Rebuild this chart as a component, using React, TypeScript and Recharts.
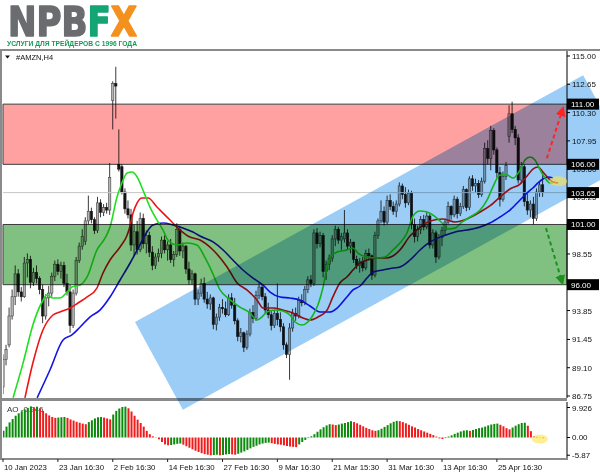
import React from 'react';
import {
  ComposedChart, Bar, Line, Area, XAxis, YAxis,
  ReferenceLine, ReferenceArea, ReferenceDot, Cell,
} from 'recharts';

// ---------------- data ----------------
const opens = [
  87.5, 89.8, 91.0, 93.4, 95.0, 96.9, 95.4, 95.0, 97.8, 98.1,
  96.2, 97.0, 96.5, 95.6, 93.4, 94.9, 95.3, 96.7, 97.7, 97.1,
  97.6, 96.1, 95.4, 92.6, 95.3, 98.0, 99.2, 99.6, 101.3, 102.1,
  101.4, 100.5, 102.8, 102.0, 102.4, 102.2, 111.3, 112.7, 106.0, 105.8,
  103.7, 102.3, 101.8, 99.3, 100.4, 98.9, 101.5, 99.4, 100.1, 98.7,
  97.6, 98.3, 98.6, 99.7, 98.9, 99.3, 98.1, 98.5, 100.6, 98.8,
  99.2, 97.3, 96.4, 96.9, 94.8, 95.3, 96.1, 94.8, 94.4, 94.9,
  92.7, 93.3, 94.1, 94.0, 93.5, 94.9, 94.3, 93.0, 91.7, 92.0,
  90.8, 91.9, 93.7, 93.2, 95.1, 95.8, 95.0, 93.9, 93.5, 92.6,
  93.6, 93.1, 92.5, 91.0, 90.2, 92.4, 93.6, 93.4, 94.7, 94.5,
  95.6, 96.4, 96.1, 100.3, 99.4, 100.1, 97.1, 97.7, 98.2, 99.8,
  100.6, 99.7, 99.8, 100.3, 99.2, 99.5, 98.1, 97.6, 97.9, 97.4,
  98.6, 98.4, 96.8, 100.1, 101.3, 102.1, 101.2, 103.0, 102.5, 102.1,
  102.7, 104.2, 103.5, 102.8, 103.6, 101.0, 100.0, 100.6, 101.4, 100.8,
  101.7, 99.3, 100.3, 98.3, 99.9, 100.5, 101.2, 102.5, 101.8, 103.1,
  101.9, 102.5, 103.9, 102.4, 104.8, 104.2, 104.4, 103.5, 104.6, 107.3,
  106.5, 108.8, 107.2, 105.3, 103.1, 105.0, 108.3, 110.2, 108.9, 108.2,
  104.7, 105.8, 102.9, 102.2, 102.7, 101.5, 103.7, 104.3,
];
const highs = [
  90.2, 91.0, 94.1, 95.6, 97.6, 97.3, 95.8, 98.3, 98.6, 98.4,
  97.4, 97.6, 96.7, 96.0, 95.2, 95.9, 97.0, 98.0, 98.1, 97.9,
  97.9, 96.9, 96.0, 95.6, 98.3, 99.5, 100.6, 101.6, 103.4, 102.4,
  101.6, 103.3, 103.1, 102.7, 102.8, 106.1, 112.9, 114.1, 108.9, 106.0,
  104.0, 103.0, 102.3, 101.0, 101.3, 102.0, 101.9, 100.5, 100.4, 99.2,
  98.6, 99.0, 100.0, 100.1, 99.6, 99.8, 98.8, 101.1, 100.9, 99.5,
  99.3, 97.9, 97.2, 97.0, 95.6, 96.5, 96.6, 95.4, 95.2, 95.0,
  93.6, 94.4, 94.8, 94.6, 95.2, 95.3, 94.9, 93.2, 92.4, 92.1,
  92.2, 94.0, 94.3, 95.5, 96.2, 96.0, 95.3, 94.5, 93.8, 93.9,
  96.1, 93.7, 92.8, 91.2, 92.8, 94.0, 94.1, 95.0, 95.2, 95.9,
  96.7, 96.8, 100.6, 100.7, 100.4, 100.3, 98.0, 98.5, 100.1, 100.9,
  100.8, 100.3, 102.2, 100.6, 99.8, 99.6, 98.4, 98.2, 98.3, 98.9,
  99.0, 98.5, 100.4, 101.5, 103.0, 102.5, 103.4, 103.5, 102.9, 103.0,
  104.5, 104.4, 104.1, 103.9, 103.8, 101.5, 100.9, 101.7, 101.8, 102.0,
  101.9, 100.6, 100.5, 100.2, 100.8, 101.5, 102.9, 102.6, 103.4, 103.3,
  102.8, 104.2, 104.0, 105.0, 105.1, 104.8, 104.7, 104.9, 107.8, 108.0,
  109.2, 109.0, 107.4, 105.8, 105.4, 106.2, 110.9, 111.2, 109.2, 108.5,
  106.2, 106.0, 103.6, 103.0, 103.3, 104.0, 104.6, 105.4,
];
const lows = [
  86.9, 89.3, 90.8, 93.1, 94.3, 95.0, 94.6, 94.9, 96.6, 95.7,
  95.9, 96.1, 95.2, 92.8, 93.1, 94.2, 95.0, 96.3, 96.8, 96.5,
  95.8, 95.1, 92.0, 92.4, 95.1, 97.8, 98.9, 99.3, 101.0, 101.1,
  100.2, 100.3, 101.6, 101.7, 101.9, 101.8, 108.9, 109.8, 105.4, 103.5,
  101.9, 101.5, 98.8, 98.4, 98.5, 98.7, 99.0, 98.6, 98.3, 97.2,
  97.3, 97.9, 98.2, 98.6, 98.0, 97.8, 97.5, 98.3, 98.4, 98.2,
  96.9, 96.0, 96.0, 94.3, 94.3, 95.0, 94.5, 94.0, 93.9, 92.3,
  92.2, 93.0, 93.6, 93.3, 93.4, 94.0, 92.7, 91.3, 91.2, 90.4,
  90.6, 91.7, 92.8, 93.0, 94.8, 94.7, 93.6, 93.2, 92.2, 92.4,
  92.6, 92.1, 90.6, 89.9, 88.1, 92.1, 93.0, 93.2, 94.2, 94.3,
  95.3, 95.8, 95.9, 99.0, 99.1, 96.6, 96.4, 97.2, 97.9, 99.2,
  99.4, 98.9, 99.5, 98.9, 98.6, 97.8, 97.3, 97.0, 97.1, 97.2,
  98.0, 96.4, 96.6, 99.8, 101.1, 100.9, 101.0, 102.2, 101.8, 101.6,
  102.5, 103.1, 102.4, 102.6, 100.6, 99.5, 99.6, 100.2, 100.5, 100.6,
  99.0, 99.0, 97.8, 98.1, 99.2, 100.1, 101.0, 101.4, 101.6, 101.5,
  101.7, 102.3, 102.1, 102.2, 103.8, 103.7, 103.2, 103.3, 104.4, 106.0,
  105.5, 106.8, 104.9, 102.5, 102.9, 104.7, 107.8, 108.6, 107.6, 104.4,
  104.4, 102.5, 101.8, 101.6, 101.0, 101.3, 103.3, 103.3,
];
const closes = [
  89.8, 90.6, 93.4, 95.0, 96.9, 95.4, 95.0, 97.8, 98.1, 96.2,
  97.0, 96.5, 95.6, 93.4, 94.9, 95.3, 96.7, 97.7, 97.1, 97.6,
  96.1, 95.4, 92.6, 95.3, 98.0, 99.2, 100.0, 101.3, 102.1, 101.4,
  100.5, 102.8, 102.0, 102.4, 102.2, 104.9, 112.7, 112.5, 105.6, 103.7,
  102.3, 101.8, 99.3, 100.4, 98.9, 101.5, 99.4, 100.1, 98.7, 97.6,
  98.3, 98.6, 99.7, 98.9, 99.3, 98.1, 98.5, 100.6, 98.8, 99.2,
  97.3, 96.4, 96.9, 94.8, 95.3, 96.1, 94.8, 94.4, 94.9, 92.7,
  93.3, 94.1, 94.0, 93.5, 94.9, 94.3, 93.0, 91.7, 92.0, 90.8,
  91.9, 93.7, 93.2, 95.1, 95.8, 95.0, 93.9, 93.5, 92.6, 93.6,
  93.1, 92.5, 91.0, 90.2, 92.4, 93.6, 93.4, 94.7, 94.5, 95.6,
  96.4, 96.1, 100.3, 99.4, 100.1, 97.1, 97.7, 98.2, 99.8, 100.6,
  99.7, 100.0, 100.3, 99.2, 99.5, 98.1, 97.6, 97.9, 97.4, 98.6,
  98.4, 96.8, 100.1, 101.3, 102.1, 101.2, 103.0, 102.5, 102.1, 102.7,
  104.2, 103.5, 102.8, 103.6, 101.0, 100.0, 100.6, 101.4, 100.8, 101.7,
  99.3, 100.3, 98.3, 99.9, 100.5, 101.2, 102.5, 101.8, 103.1, 101.9,
  102.5, 103.9, 102.4, 104.8, 104.2, 104.4, 103.5, 104.6, 107.3, 106.5,
  108.8, 107.2, 105.3, 103.1, 105.0, 105.9, 110.2, 108.9, 108.2, 104.7,
  105.8, 102.9, 102.2, 102.7, 101.5, 103.7, 104.3, 103.65,
];
const aoValues = [
  2.2, 3.6, 5.0, 6.1, 7.2, 8.0, 8.7, 9.3, 9.8, 10.3,
  10.0, 10.2, 9.6, 8.8, 8.0, 7.3, 6.8, 6.5, 6.6, 6.7,
  6.8, 6.5, 6.0, 5.6, 5.2, 4.9, 4.6, 4.4, 5.1, 5.7,
  6.3, 6.7, 6.8, 6.6, 6.3, 6.0, 7.6, 8.8, 9.6, 10.1,
  10.2, 9.7, 8.6, 7.2, 5.9, 4.8, 3.6, 2.2, 1.1, 0.4,
  0.1, -0.6, -1.5, -2.3, -2.6, -2.5, -2.3, -2.1, -2.0, -2.4,
  -2.9, -3.4, -3.9, -4.4, -4.8, -5.2, -5.5, -5.7, -5.9, -5.8,
  -5.7, -5.9, -5.8, -5.6, -5.5, -5.6, -5.7, -5.4, -5.0, -4.6,
  -4.1, -3.6, -3.1, -2.7, -2.3, -2.0, -1.8, -1.7, -1.9, -2.1,
  -2.3, -2.4, -2.6, -2.8, -3.0, -3.1, -3.2, -2.3, -1.5, -0.8,
  -0.2, 0.4, 1.1, 1.9, 2.7, 3.4, 4.0, 4.4, 4.3, 4.1,
  4.3, 4.6, 4.8, 5.1, 5.4, 5.1, 4.7, 4.2, 3.7, 3.2,
  2.8, 2.4, 2.2, 2.4, 2.9, 3.5, 4.1, 4.7, 5.2, 5.5,
  5.4, 5.1, 4.7, 4.2, 3.7, 3.3, 2.8, 2.4, 2.0, 1.6,
  1.2, 0.8, 0.3, -0.3, -0.5, -0.2, 0.3, 0.7, 1.2, 1.6,
  2.0, 2.3, 2.4, 2.2, 2.5, 2.8, 3.1, 3.3, 3.6, 4.0,
  4.3, 4.5, 4.6, 4.2, 3.7, 3.1, 2.7, 3.3, 3.9, 4.4,
  4.8, 4.9, 3.9, 2.1, 0.4, 0.2, -0.1, -0.246,
];

// Alligator lines, read as [bar index, price]
const lipsPts = [
  [3.3, 86.6], [6.6, 89.5], [9.8, 92.65], [12.8, 94.56], [14.4, 95.14], [16.4, 94.89], [18.7, 94.89],
  [21.0, 95.39], [22.6, 95.81], [25.3, 95.97], [27.6, 96.64], [30.8, 98.88], [33.5, 99.88], [35.1, 100.79],
  [37.4, 103.28], [39.0, 104.45], [40.7, 105.28], [42.3, 105.36], [44.0, 104.95], [45.9, 103.87],
  [48.2, 102.45], [50.5, 101.37], [52.5, 100.54], [54.1, 99.71], [57.1, 99.3], [60.4, 99.46], [63.6, 99.3],
  [66.3, 98.22], [68.6, 97.05], [71.2, 95.56], [74.5, 94.73], [77.7, 94.14], [81.0, 93.65], [83.3, 93.06],
  [84.9, 93.31], [86.6, 93.73], [89.2, 93.89], [91.8, 93.81], [94.1, 93.48], [95.8, 92.9], [98.1, 92.65],
  [100.0, 92.9], [101.7, 93.48], [103.3, 94.31], [105.0, 95.81], [106.3, 97.47], [107.6, 98.38],
  [109.6, 98.71], [112.8, 98.88], [114.8, 99.05], [116.4, 98.63], [119.4, 98.3], [122.7, 98.22],
  [125.3, 98.3], [127.9, 98.88], [130.2, 99.46], [132.5, 100.29], [134.5, 101.71], [136.8, 102.12],
  [139.1, 102.04], [141.4, 101.71], [143.7, 101.21], [146.0, 100.63], [148.3, 100.71], [150.6, 101.21],
  [153.2, 101.62], [156.5, 102.2], [158.8, 103.04], [160.7, 104.12], [163.0, 105.11], [165.3, 105.11],
  [167.3, 104.86], [169.6, 105.53], [171.2, 106.36], [172.9, 106.61], [174.5, 106.36], [176.2, 105.53],
  [177.8, 104.86], [179.4, 104.45], [180.4, 104.45],
];
const teethPts = [
  [7.2, 86.6], [9.8, 89.49], [13.1, 92.23], [16.4, 93.48], [18.7, 93.73], [22.0, 94.06], [24.6, 94.48],
  [27.6, 94.98], [30.8, 95.72], [32.8, 96.97], [35.1, 98.05], [38.4, 99.13], [40.7, 100.1], [41.7, 100.9],
  [42.6, 101.9], [44.0, 102.8], [45.6, 103.2], [47.6, 103.2], [50.5, 102.45], [52.5, 101.95],
  [54.8, 101.37], [58.1, 100.54], [61.3, 99.96], [64.6, 99.71], [68.9, 98.88], [73.5, 97.47],
  [76.8, 96.14], [80.0, 95.56], [83.3, 94.73], [85.3, 94.06], [88.6, 94.06], [91.8, 93.89], [95.1, 93.65],
  [98.4, 93.23], [100.7, 93.06], [103.3, 93.31], [106.3, 93.89], [108.2, 94.98], [110.5, 96.14],
  [112.8, 96.64], [114.8, 97.22], [117.1, 97.8], [119.4, 98.05], [122.7, 98.22], [126.0, 98.22],
  [127.9, 98.38], [130.2, 98.88], [133.5, 100.04], [136.1, 100.62], [140.1, 101.29], [144.3, 101.46],
  [148.3, 101.21], [152.2, 101.46], [156.5, 102.04], [159.7, 102.54], [163.0, 103.28], [166.3, 103.95],
  [169.6, 104.36], [171.9, 105.03], [173.8, 105.61], [175.5, 105.78], [177.1, 105.36], [178.8, 104.86],
  [180.4, 104.53], [182.1, 104.45],
];
const jawPts = [
  [11.2, 86.6], [15.4, 88.91], [19.7, 91.4], [22.6, 91.82], [25.3, 92.48], [28.5, 93.31], [31.8, 93.89],
  [35.1, 94.98], [38.4, 96.39], [41.7, 97.8], [44.9, 99.3], [47.2, 100.38], [49.2, 100.96], [52.5, 101.12],
  [55.8, 100.96], [59.0, 100.71], [62.3, 100.38], [64.6, 100.04], [68.9, 99.55], [72.2, 98.88],
  [75.4, 98.05], [78.7, 97.22], [82.0, 96.55], [85.3, 95.97], [87.6, 95.39], [90.9, 94.98], [94.1, 94.89],
  [97.4, 94.73], [100.7, 94.23], [104.0, 93.73], [107.2, 93.73], [109.6, 94.06], [112.8, 94.98],
  [114.8, 95.56], [117.1, 95.89], [119.4, 96.55], [121.4, 97.05], [124.6, 97.22], [127.9, 97.38],
  [130.2, 97.47], [133.5, 98.05], [136.8, 98.88], [140.1, 99.55], [144.3, 100.04], [148.3, 100.38],
  [152.2, 100.54], [156.5, 100.79], [159.7, 101.12], [163.0, 101.62], [166.3, 102.2], [169.6, 103.04],
  [171.9, 103.62], [173.8, 104.03], [175.5, 104.45], [177.1, 104.78], [178.8, 104.95], [180.4, 104.86],
];

const priceTicks = [115, 112.65, 110.3, 107.95, 105.6, 103.25, 100.9, 98.55, 96.2, 93.85, 91.45, 89.1, 86.75];
const aoTicks = [9.926, 0, -5.87];
const aoTickLabels = ['9.926', '0.00', '-5.87'];
const dateTickIdx = [0, 18, 36, 54, 72, 90, 108, 126, 144, 162];
const dateLabels = [
  '10 Jan 2023', '23 Jan 16:30', '2 Feb 16:30', '14 Feb 16:30', '27 Feb 16:30',
  '9 Mar 16:30', '21 Mar 15:30', '31 Mar 16:30', '13 Apr 16:30', '25 Apr 16:30',
];

const zoneResistance = [106, 111];
const zoneSupport = [96, 101];
const levelBoxes = [111, 106, 103.65, 101, 96];
const lastPrice = 103.65;
const channelBand = [
  { i: 43.3, band: [92.9, 92.9] },
  { i: 59.0, band: [85.6, 95.1] },
  { i: 190.3, band: [103.9, 113.4] },
  { i: 206.0, band: [106.1, 106.1] },
];
const upArrow = [{ i: 178.4, p: 106.5 }, { i: 183.6, p: 110.6 }];
const downArrow = [{ i: 178.1, p: 100.7 }, { i: 183.4, p: 96.2 }];
const focusMain = { i: 182.1, p: 104.6 };
const focusAO = { i: 176.1, v: -0.5 };
const symbolCaption = '#AMZN,H4';
const aoCaption = 'AO -0.246';

// ---------------- layout ----------------
const W = 600, H = 476;
const LEFT = 3, AXIS_X = 567;
const MAIN_TOP = 51, MAIN_BOTTOM = 398;
const AO_TOP = 402, AO_BOTTOM = 458;
const X_DOMAIN: [number, number] = [0, 185];
const P_TOP = 115.415, P_BOT = 86.584;
const PRICE_DOMAIN: [number, number] = [P_BOT, P_TOP];
const AO_DOMAIN: [number, number] = [-6.79, 11.75];
const PX_PER_BAR = (AXIS_X - LEFT) / X_DOMAIN[1];
const PX_PER_PRICE = (MAIN_BOTTOM - MAIN_TOP) / (P_TOP - P_BOT);
const OV_W = 660, OV_RIGHT = 650, OV_BOTTOM = 440;
const OV_X_DOMAIN: [number, number] = [0, (OV_RIGHT - LEFT) / PX_PER_BAR];
const OV_PRICE_DOMAIN: [number, number] = [P_TOP - (OV_BOTTOM - MAIN_TOP) / PX_PER_PRICE, P_TOP];

const FONT = '"Liberation Sans", Arial, sans-serif';
const AO_GREEN = '#0b8a0b';
const AO_RED = '#f01c1c';

const candleRows = opens.map((o, i) => ({
  i, o, h: highs[i], l: lows[i], c: closes[i], range: [lows[i], highs[i]],
}));
const aoRows = aoValues.map((v, i) => ({ i, ao: v, up: i === 0 || v > aoValues[i - 1] }));
const toRows = (pts: number[][]) => pts.map(([i, v]) => ({ i, v }));
const lipsRows = toRows(lipsPts);
const teethRows = toRows(teethPts);
const jawRows = toRows(jawPts);

// ---------------- renderers ----------------
function Candle(props: any) {
  const { x, y, width, height, payload } = props;
  if (!payload || x == null || y == null) return null;
  const top = Math.min(y, y + height);
  const span = Math.abs(height);
  const { o, h, l, c } = payload;
  const k = h - l > 0 ? span / (h - l) : 0;
  const yOf = (v: number) => top + (h - v) * k;
  const cx = x + width / 2;
  const bull = c >= o;
  const bt = yOf(Math.max(o, c));
  const bb = yOf(Math.min(o, c));
  const bw = 2.3;
  return (
    <g>
      <line x1={cx} x2={cx} y1={top} y2={top + span} stroke="#3a3a3a" strokeWidth={1} />
      <rect
        x={cx - bw / 2} y={bt} width={bw} height={Math.max(bb - bt, 0.8)}
        fill={bull ? '#b4b4b4' : '#151515'} stroke={bull ? '#444' : '#151515'} strokeWidth={0.6}
      />
    </g>
  );
}

const PriceTick = (p: any) => (
  <text x={p.x} y={p.y} dy={3} fontSize={8} fill="#111" textAnchor="start" fontFamily={FONT}>
    {Number(p.payload.value).toFixed(2)}
  </text>
);

const AoTick = (p: any) => {
  const k = aoTicks.indexOf(p.payload.value);
  return (
    <text x={p.x} y={p.y} dy={3} fontSize={8} fill="#111" textAnchor="start" fontFamily={FONT}>
      {aoTickLabels[k]}
    </text>
  );
};

const DateTick = (p: any) => {
  const k = dateTickIdx.indexOf(p.payload.value);
  return (
    <g>
      <line x1={p.x} x2={p.x} y1={p.y + 1} y2={p.y + 4} stroke="#222" />
      <text x={p.x + 1} y={p.y + 12} fontSize={7.8} fill="#111" textAnchor="start" fontFamily={FONT}>
        {dateLabels[k]}
      </text>
    </g>
  );
};

const LevelBox = ({ viewBox, value }: any) => {
  if (!viewBox) return null;
  const x = viewBox.x + viewBox.width;
  const y = viewBox.y;
  return (
    <g>
      <rect x={x} y={y - 5.5} width={W - x - 1} height={11} fill="#000" />
      <text x={x + 4} y={y + 3} fontSize={8} fill="#fff" fontFamily={FONT}>{value.toFixed(2)}</text>
    </g>
  );
};

const focusShape = (rx: number, ry: number) => (p: any) => (
  <ellipse cx={p.cx} cy={p.cy} rx={rx} ry={ry} fill="#ffe24a" fillOpacity={0.6} stroke="none" />
);

const layer: React.CSSProperties = { position: 'absolute', left: 0, top: 0 };

export default function App() {
  return (
    <div style={{ position: 'absolute', left: 0, top: 0, width: W, height: H, overflow: 'hidden', background: '#fff', fontFamily: FONT }}>
      <style>{'.ovl .recharts-area, .ovl .recharts-reference-area { mix-blend-mode: multiply; }'}</style>
      <svg width={0} height={0} style={{ position: 'absolute' }}>
        <defs>
          <marker id="ahRed" viewBox="0 0 10 10" refX="7" refY="5" markerWidth="10" markerHeight="10" markerUnits="userSpaceOnUse" orient="auto">
            <path d="M0,0 L10,5 L0,10 z" fill="#ff2424" />
          </marker>
          <marker id="ahGreen" viewBox="0 0 10 10" refX="7" refY="5" markerWidth="10" markerHeight="10" markerUnits="userSpaceOnUse" orient="auto">
            <path d="M0,0 L10,5 L0,10 z" fill="#1f8f1f" />
          </marker>
        </defs>
      </svg>

      {/* frame, logo, captions */}
      <svg width={W} height={H} style={layer}>
        <text x={8} y={36} fontFamily='"DejaVu Sans", sans-serif' fontWeight="bold" fontSize={40} textLength={129} lengthAdjust="spacingAndGlyphs" strokeWidth={1.6} strokeLinejoin="round">
          <tspan fill="#6b6c70" stroke="#6b6c70">NPB</tspan><tspan fill="#13a574" stroke="#13a574">F</tspan><tspan fill="#f4901e" stroke="#f4901e">X</tspan>
        </text>
        <text x={7} y={45.5} fontFamily={FONT} fontWeight="bold" fontSize={7.5} fill="#169a55" textLength={130} lengthAdjust="spacingAndGlyphs">
          УСЛУГИ ДЛЯ ТРЕЙДЕРОВ С 1996 ГОДА
        </text>
        <rect x={0} y={49} width={W} height={2} fill="#8a8a8a" />
        <rect x={0} y={49} width={2} height={411} fill="#8a8a8a" />
        <rect x={0} y={398} width={AXIS_X} height={3} fill="#8a8a8a" />
        <rect x={0} y={458} width={AXIS_X + 1} height={2} fill="#8a8a8a" />
        <path d="M5,55.5 L10,55.5 L7.5,58.5 z" fill="#111" />
        <text x={16} y={60} fontSize={7.5} fill="#111" fontFamily={FONT}>{symbolCaption}</text>
        <text x={7} y={412} fontSize={8} fill="#333" fontFamily={FONT}>{aoCaption}</text>
      </svg>

      {/* AO panel */}
      <div style={layer}>
        <ComposedChart width={W} height={H} data={aoRows} margin={{ top: AO_TOP, right: 0, bottom: 0, left: LEFT }}>
          <XAxis
            type="number" dataKey="i" domain={X_DOMAIN} allowDataOverflow ticks={dateTickIdx} interval={0}
            height={H - AO_BOTTOM} axisLine={false} tickLine={false} tickSize={0} tickMargin={0} tick={DateTick}
          />
          <YAxis
            orientation="right" width={W - AXIS_X} domain={AO_DOMAIN} allowDataOverflow ticks={aoTicks} interval={0}
            tickSize={3} tickMargin={2} axisLine={{ stroke: '#000' }} tickLine={{ stroke: '#000' }} tick={AoTick}
          />
          <Bar dataKey="ao" barSize={2} isAnimationActive={false}>
            {aoRows.map((r, k) => <Cell key={k} fill={r.up ? AO_GREEN : AO_RED} />)}
          </Bar>
          <ReferenceDot x={focusAO.i} y={focusAO.v} shape={focusShape(8, 4.5)} />
        </ComposedChart>
      </div>

      {/* main price panel */}
      <div style={layer}>
        <ComposedChart width={W} height={H} data={candleRows} margin={{ top: MAIN_TOP, right: 0, bottom: H - MAIN_BOTTOM, left: LEFT }}>
          <XAxis type="number" dataKey="i" domain={X_DOMAIN} allowDataOverflow hide />
          <YAxis
            orientation="right" width={W - AXIS_X} domain={PRICE_DOMAIN} allowDataOverflow ticks={priceTicks} interval={0}
            tickSize={3} tickMargin={2} axisLine={{ stroke: '#000' }} tickLine={{ stroke: '#000' }} tick={PriceTick}
          />
          <ReferenceLine y={lastPrice} stroke="#c6c6c6" strokeWidth={1} />
          <Bar dataKey="range" barSize={3} shape={Candle} isAnimationActive={false} />
          <Line data={jawRows} dataKey="v" type="monotone" dot={false} stroke="#1414e6" strokeWidth={1.6} isAnimationActive={false} />
          <Line data={teethRows} dataKey="v" type="monotone" dot={false} stroke="#ee1414" strokeWidth={1.6} isAnimationActive={false} />
          <Line data={lipsRows} dataKey="v" type="monotone" dot={false} stroke="#1ee01e" strokeWidth={1.6} isAnimationActive={false} />
        </ComposedChart>
      </div>

      {/* zones + channel, multiplied over the chart */}
      <div className="ovl" style={{ ...layer, mixBlendMode: 'multiply' }}>
        <ComposedChart width={OV_W} height={H} margin={{ top: MAIN_TOP, right: OV_W - OV_RIGHT, bottom: H - OV_BOTTOM, left: LEFT }}>
          <XAxis type="number" dataKey="i" domain={OV_X_DOMAIN} allowDataOverflow hide />
          <YAxis domain={OV_PRICE_DOMAIN} allowDataOverflow hide />
          <ReferenceArea x1={X_DOMAIN[0]} x2={X_DOMAIN[1]} y1={zoneResistance[0]} y2={zoneResistance[1]} fill="#ffa1a1" fillOpacity={1} stroke="#3c3c3c" strokeWidth={1} />
          <ReferenceArea x1={X_DOMAIN[0]} x2={X_DOMAIN[1]} y1={zoneSupport[0]} y2={zoneSupport[1]} fill="#80c080" fillOpacity={1} stroke="#3c3c3c" strokeWidth={1} />
          <Area data={channelBand} dataKey="band" type="linear" stroke="none" fill="#9bcdf6" fillOpacity={1} isAnimationActive={false} />
        </ComposedChart>
      </div>

      {/* annotations */}
      <div style={layer}>
        <ComposedChart width={W} height={H} margin={{ top: MAIN_TOP, right: W - AXIS_X, bottom: H - MAIN_BOTTOM, left: LEFT }}>
          <XAxis type="number" dataKey="i" domain={X_DOMAIN} hide />
          <YAxis domain={PRICE_DOMAIN} hide />
          <ReferenceDot x={focusMain.i} y={focusMain.p} shape={focusShape(9, 5)} />
          <Line data={upArrow} dataKey="p" type="linear" dot={false} stroke="#ff2424" strokeWidth={2} strokeDasharray="4 3" markerEnd="url(#ahRed)" isAnimationActive={false} />
          <Line data={downArrow} dataKey="p" type="linear" dot={false} stroke="#1f8f1f" strokeWidth={2} strokeDasharray="4 3" markerEnd="url(#ahGreen)" isAnimationActive={false} />
          {levelBoxes.map((v) => (
            <ReferenceLine key={v} y={v} stroke="none" label={(lp: any) => <LevelBox viewBox={lp.viewBox} value={v} />} />
          ))}
        </ComposedChart>
      </div>
    </div>
  );
}
